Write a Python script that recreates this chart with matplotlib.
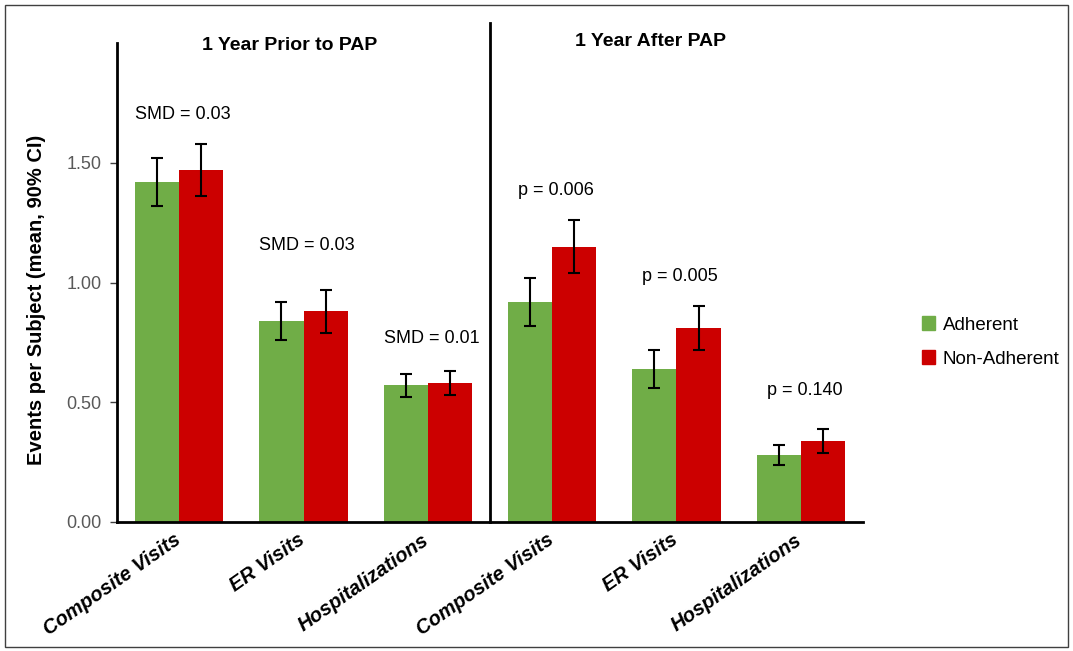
import matplotlib
matplotlib.use("Agg")
import matplotlib.pyplot as plt
from matplotlib.patches import Rectangle, Patch
from matplotlib.transforms import ScaledTranslation
import numpy as np

plt.rcParams['font.family'] = ['Liberation Sans', 'DejaVu Sans']

categories = ["Composite Visits", "ER Visits", "Hospitalizations",
              "Composite Visits", "ER Visits", "Hospitalizations"]
adherent = [1.42, 0.84, 0.57, 0.92, 0.64, 0.28]
adherent_lo = [1.32, 0.76, 0.52, 0.82, 0.56, 0.24]
adherent_hi = [1.52, 0.92, 0.62, 1.02, 0.72, 0.32]
nonadherent = [1.47, 0.88, 0.58, 1.15, 0.81, 0.34]
nonadherent_lo = [1.36, 0.79, 0.53, 1.04, 0.72, 0.29]
nonadherent_hi = [1.58, 0.97, 0.63, 1.26, 0.90, 0.39]
annotations = ["SMD = 0.03", "SMD = 0.03", "SMD = 0.01",
               "p = 0.006", "p = 0.005", "p = 0.140"]
annotation_y = [1.70, 1.154, 0.767, 1.383, 1.025, 0.55]
panel_titles = ["1 Year Prior to PAP", "1 Year After PAP"]
yticks = [0.0, 0.5, 1.0, 1.5]

green = '#70AD47'
red = '#CC0000'

fig = plt.figure(figsize=(10.73, 6.51), dpi=100)
ax = fig.add_axes([117/1073, 1 - 522/651, (863-117)/1073, (522-43)/651])

x = np.arange(len(categories))
w = 0.354
a = np.array(adherent); n = np.array(nonadherent)
a_err = [a - np.array(adherent_lo), np.array(adherent_hi) - a]
n_err = [n - np.array(nonadherent_lo), np.array(nonadherent_hi) - n]

ax.bar(x - w/2, a, w, color=green, label='Adherent', zorder=2)
ax.bar(x + w/2, n, w, color=red, label='Non-Adherent', zorder=2)
ax.errorbar(x - w/2, a, yerr=a_err, fmt='none', ecolor='black', elinewidth=1.5,
            capsize=4, capthick=1.5, zorder=3)
ax.errorbar(x + w/2, n, yerr=n_err, fmt='none', ecolor='black', elinewidth=1.5,
            capsize=4, capthick=1.5, zorder=3)

for xi, txt, yi in zip(x, annotations, annotation_y):
    ax.text(xi + 0.03, yi, txt, ha='center', va='center', fontsize=13, color='black')

ax.text(0.89, 1.99, panel_titles[0], ha='center', va='center', fontsize=14,
        fontweight='bold', clip_on=False)
ax.text(3.79, 2.005, panel_titles[1], ha='center', va='center', fontsize=14,
        fontweight='bold', clip_on=False)

ax.plot([2.5, 2.5], [0, 2.083], color='black', lw=2, clip_on=False, zorder=4)

ax.set_xlim(-0.5, 5.5)
ax.set_ylim(0, 2.0)
ax.set_yticks(yticks)
ax.set_yticklabels([f"{v:.2f}" for v in yticks], fontsize=13, color='#595959')
ax.tick_params(axis='y', length=5, width=1, color='#404040', pad=6)
ax.set_xticks(x)
ax.set_xticklabels(categories, rotation=35, ha='right', rotation_mode='anchor',
                   fontsize=14.5, fontweight='bold', fontstyle='italic')
ax.tick_params(axis='x', length=0, pad=6)
offset = ScaledTranslation(-6/100, 0, fig.dpi_scale_trans)
for lbl in ax.get_xticklabels():
    lbl.set_transform(lbl.get_transform() + offset)
for s in ['top', 'right']:
    ax.spines[s].set_visible(False)
for s in ['left', 'bottom']:
    ax.spines[s].set_linewidth(2)
    ax.spines[s].set_color('black')

ax.set_ylabel("Events per Subject (mean, 90% CI)", fontsize=14.5, fontweight='bold')
ax.yaxis.set_label_coords((46 - 117) / 746, (522 - 300) / 479)

handles = [Patch(color=green, label='Adherent'), Patch(color=red, label='Non-Adherent')]
fig.legend(handles=handles, loc='center left', bbox_to_anchor=(905/1073, 1 - 342/651),
           frameon=False, fontsize=13.5, handlelength=0.7, handleheight=0.7,
           handletextpad=0.4, labelspacing=0.9)

fig.patches.append(Rectangle((5/1073, 4/651), 1063/1073, 642/651, transform=fig.transFigure,
                             fill=False, edgecolor='#404040', lw=1))

fig.savefig('out.png', dpi=100)
